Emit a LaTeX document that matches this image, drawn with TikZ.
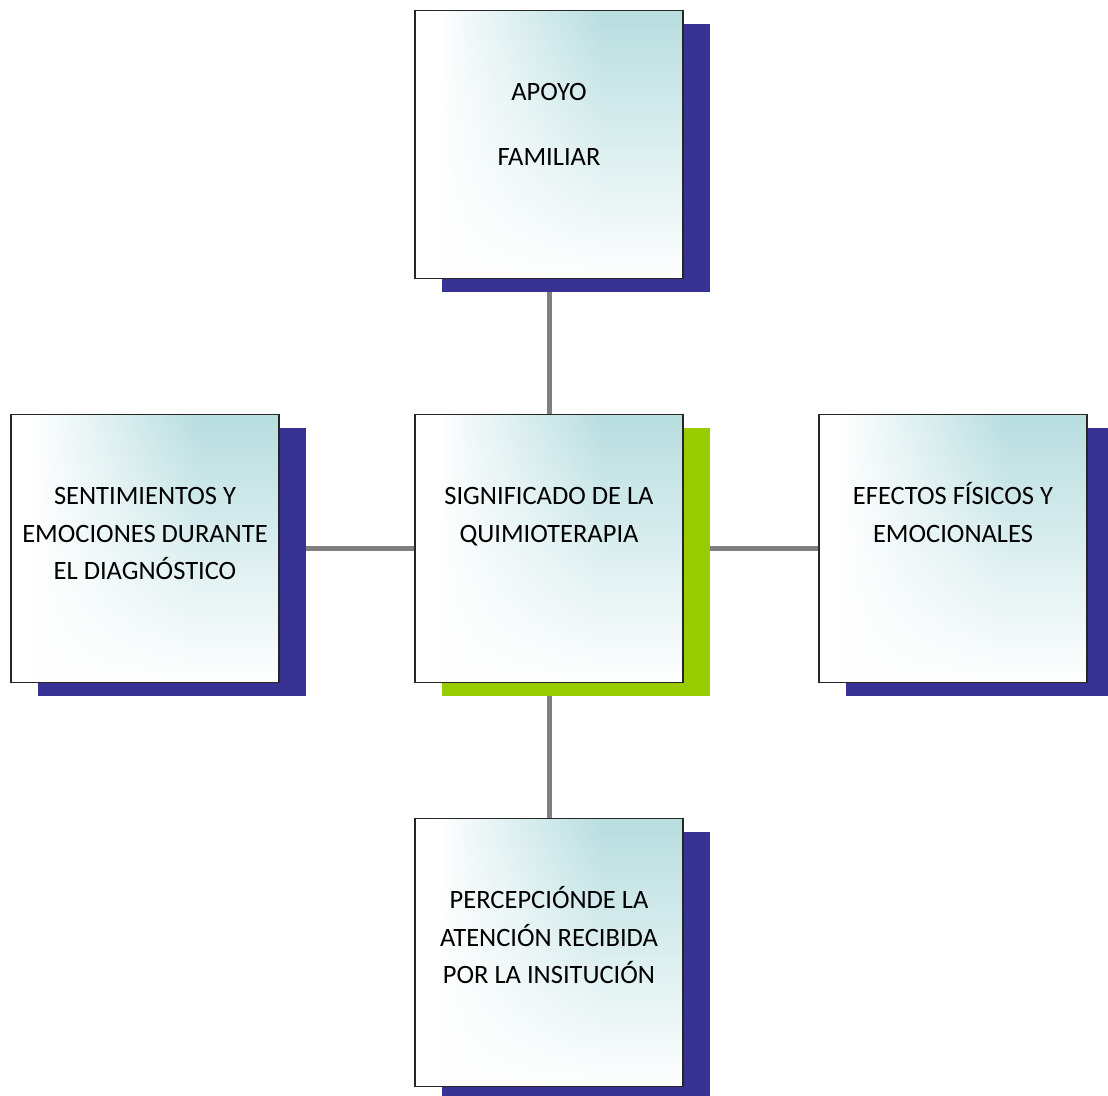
\documentclass[tikz,border=0pt]{standalone}
\usepackage{fontspec}
\setmainfont{Carlito}
\usepackage{tikz}
\usetikzlibrary{positioning, shadows, backgrounds, fadings}
\definecolor{col1}{rgb}{0.72, 0.87, 0.88}
\definecolor{col2}{rgb}{0.21, 0.2, 0.58}
\definecolor{col3}{rgb}{0.6, 0.8, 0.0}
\definecolor{col4}{rgb}{0.5, 0.5, 0.5}
\pgfdeclarehorizontalshading{hteal}{100bp}{color(0bp)=(white); color(29bp)=(white); color(60bp)=(col1); color(100bp)=(col1)}
\tikzfading[name = fadeup, top color = transparent!100, middle color = transparent!55, bottom color = transparent!0]

\begin{document}
\begin{tikzpicture} [x = 1pt, y = 1pt, node distance = 404pt, on grid,
    box/.style = {rectangle, draw = black!85, line width = 1.5pt, minimum size = 268pt,
        shading = hteal, general shadow = {fill = #1, shadow xshift = 27pt, shadow yshift = -13.5pt},
        path picture = {\fill [white, path fading = fadeup] (path picture bounding box.south west)
            rectangle (path picture bounding box.north east);}},
    box/.default = col2,
    lbl/.style = {align = center, inner sep = 0pt, font = \fontsize{26.5}{37.5}\selectfont, anchor = base},
    link/.style = {draw = col4, line width = 5pt}]
\useasboundingbox (0,0) rectangle (1108,-1095);
\node (v0) [box = col3] at (549,-548.5) {};
\node (v1) [box, above = of v0] {};
\node (v2) [box, left = of v0] {};
\node (v3) [box, right = of v0] {};
\node (v4) [box, below = of v0] {};
% text sits on the baseline of its last line
\node (t0) [lbl] at ([yshift = -128.5pt]v0.north) {SIGNIFICADO DE LA\\QUIMIOTERAPIA};
\node (t1) [lbl] at ([yshift = -156pt]v1.north) {APOYO\\[27.5pt]FAMILIAR};
\node (t2) [lbl] at ([yshift = -166pt]v2.north) {SENTIMIENTOS Y\\EMOCIONES DURANTE\\EL DIAGNÓSTICO};
\node (t3) [lbl] at ([yshift = -128.5pt]v3.north) {EFECTOS FÍSICOS Y\\EMOCIONALES};
\node (t4) [lbl] at ([yshift = -166pt]v4.north) {PERCEPCIÓNDE LA\\ATENCIÓN RECIBIDA\\POR LA INSITUCIÓN};
\begin{scope}[on background layer]
\path [link]
    (v0) -- (v1)
    (v0) -- (v2)
    (v0) -- (v3)
    (v0) -- (v4);
\end{scope}
\end{tikzpicture}
\end{document}
